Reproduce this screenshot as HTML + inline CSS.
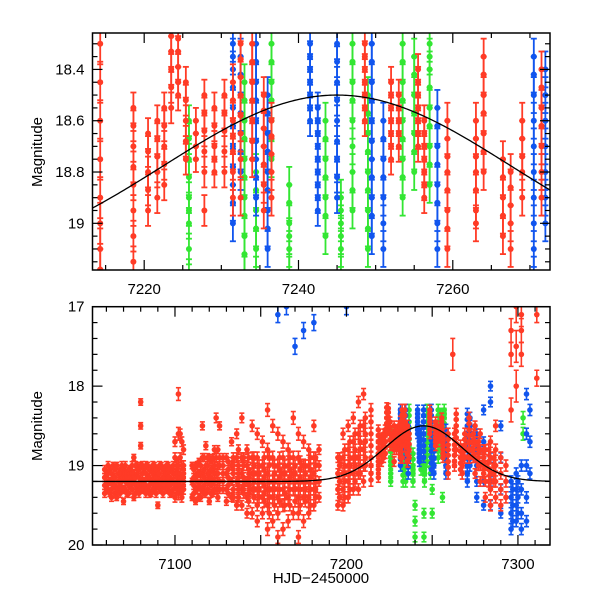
<!DOCTYPE html>
<html><head><meta charset="utf-8"><style>
html,body{margin:0;padding:0;background:#fff;}
svg{display:block;font-family:"Liberation Sans",Arial,sans-serif;}
</style></head><body>
<svg id="chart" width="600" height="600" viewBox="0 0 600 600" xmlns="http://www.w3.org/2000/svg">
<defs>
<clipPath id="clipTop"><rect x="92.5" y="33" width="457.5" height="237"/></clipPath>
<clipPath id="clipBot"><rect x="92.5" y="306.7" width="457.5" height="238.3"/></clipPath>
</defs>
<g id="top"></g>
<g id="bot"></g>
<text transform="translate(42,152) rotate(-90)" text-anchor="middle" font-size="15">Magnitude</text>
<text transform="translate(42,426) rotate(-90)" text-anchor="middle" font-size="15">Magnitude</text>
<text x="321" y="583" text-anchor="middle" font-size="15">HJD−2450000</text>
</svg>
<script>
// Data: each column = [time, error, [magnitudes]]
const redCols = [
[7059,0.05,[19.05,19.15,19.25,19.35]],[7060,0.04,[19.1,19.25,19.3]],[7061,0.05,[19.0,19.1,19.2,19.3]],[7062,0.04,[19.05,19.2,19.35]],
[7063,0.05,[19.1,19.2,19.3,19.4]],[7064,0.04,[19.0,19.15,19.25]],[7065,0.05,[19.05,19.15,19.25,19.35]],
[7066,0.04,[19.0,19.3,19.4]],[7067,0.05,[19.1,19.2,19.3]],[7068,0.05,[19.05,19.15,19.25,19.35]],[7069,0.05,[19.0,19.1,19.2,19.3]],
[7070,0.04,[19.05,19.15,19.3,19.45]],[7071,0.05,[19.0,19.1,19.2,19.3]],[7072,0.04,[19.1,19.2,19.35]],[7073,0.05,[19.05,19.15,19.25,19.35]],
[7074,0.04,[19.05,19.15,19.25]],[7075,0.05,[19.0,19.1,19.2,19.3]],[7076,0.04,[18.9,19.1,19.2,19.4]],[7077,0.05,[19.0,19.15,19.25,19.35]],
[7078,0.04,[19.0,19.1,19.25,19.3]],[7079,0.05,[19.05,19.15,19.25,19.35]],
[7080,0.04,[18.2,18.5,18.75,19.0,19.2,19.3]],[7081,0.05,[19.0,19.1,19.2,19.3]],[7082,0.04,[19.05,19.2,19.3]],[7083,0.05,[19.0,19.1,19.25,19.35]],[7084,0.04,[19.0,19.15,19.3]],
[7085,0.05,[19.05,19.15,19.25,19.35]],[7086,0.04,[19.05,19.2,19.35]],[7087,0.05,[19.0,19.1,19.2,19.3]],[7088,0.04,[19.0,19.1,19.2,19.3]],[7089,0.05,[19.05,19.15,19.25,19.35]],
[7090,0.04,[19.05,19.15,19.25,19.5]],[7091,0.05,[19.0,19.1,19.2,19.3]],
[7092,0.04,[19.0,19.2,19.3]],[7093,0.05,[19.05,19.15,19.25,19.35]],[7094,0.04,[19.05,19.15,19.25]],[7095,0.05,[19.0,19.1,19.2,19.3]],[7096,0.04,[19.0,19.1,19.2,19.3]],
[7097,0.05,[19.05,19.15,19.25,19.35]],[7098,0.04,[19.05,19.2,19.35]],[7099,0.05,[19.0,19.1,19.2,19.3]],[7100,0.06,[18.7,18.9,19.1,19.25,19.4]],[7101,0.06,[19.0,19.1,19.2,19.3]],[7102,0.08,[18.1,18.6,19.0,19.2,19.35]],
[7103,0.06,[18.6,18.9,19.1,19.2,19.3]],[7104,0.06,[18.7,19.0,19.15,19.3,19.4]],[7105,0.06,[18.8,19.0,19.1,19.2,19.3]],[7110,0.04,[19.0,19.2,19.4]],[7111,0.05,[19.05,19.15,19.25,19.35]],[7112,0.04,[19.0,19.15,19.3,19.45]],
[7113,0.05,[19.0,19.1,19.2,19.3]],[7114,0.04,[18.95,19.1,19.25,19.4]],[7115,0.05,[19.0,19.1,19.2,19.3,19.4]],[7116,0.05,[18.5,18.9,19.1,19.3]],[7117,0.05,[18.9,19.05,19.15,19.25,19.35]],[7118,0.05,[18.75,19.0,19.2,19.35]],
[7119,0.05,[18.9,19.0,19.1,19.2,19.3]],[7120,0.04,[18.9,19.1,19.2,19.45]],[7121,0.05,[18.95,19.05,19.15,19.25,19.35]],[7122,0.04,[18.9,19.05,19.2,19.35]],[7123,0.05,[18.8,19.0,19.1,19.2,19.3]],[7124,0.06,[18.4,18.9,19.1,19.3]],
[7125,0.05,[18.8,19.0,19.1,19.2,19.3,19.4]],[7126,0.05,[18.5,18.9,19.0,19.2,19.3]],[7128,0.05,[18.9,19.0,19.1,19.2,19.3]],[7130,0.05,[18.9,19.1,19.3,19.45]],[7131,0.05,[18.95,19.05,19.15,19.25,19.35]],[7133,0.05,[18.7,19.0,19.2,19.4]],
[7134,0.06,[18.9,19.0,19.1,19.3,19.4]],[7136,0.06,[18.6,18.9,19.2,19.5]],[7137,0.06,[18.8,19.0,19.1,19.2,19.3,19.4]],[7139,0.06,[18.4,18.9,19.1,19.3,19.5]],[7140,0.06,[18.9,19.0,19.15,19.25,19.35]],[7142,0.06,[18.8,19.0,19.2,19.4,19.6]],
[7143,0.06,[18.9,19.05,19.15,19.25,19.35,19.45]],[7145,0.07,[18.5,18.9,19.1,19.3,19.6]],[7146,0.07,[18.9,19.0,19.1,19.2,19.3,19.4]],[7148,0.07,[18.6,18.9,19.1,19.3,19.5,19.7]],[7149,0.07,[19.0,19.1,19.2,19.3,19.4]],[7151,0.07,[18.7,19.0,19.2,19.4,19.6]],
[7152,0.07,[18.9,19.05,19.15,19.25,19.35,19.45]],[7154,0.08,[18.3,18.8,19.1,19.3,19.5,19.8]],[7155,0.07,[18.9,19.0,19.2,19.3,19.4,19.6]],[7157,0.08,[18.5,18.9,19.2,19.4,19.7]],[7158,0.07,[19.0,19.1,19.2,19.3,19.5]],[7160,0.08,[18.6,19.0,19.2,19.4,19.6,19.9]],
[7161,0.07,[18.9,19.05,19.15,19.3,19.45]],[7163,0.08,[18.7,18.9,19.1,19.3,19.5,19.8]],[7164,0.07,[19.0,19.1,19.2,19.35,19.5]],[7166,0.08,[18.8,19.0,19.2,19.4,19.7]],[7167,0.07,[18.9,19.05,19.15,19.3,19.5]],[7169,0.08,[18.4,18.9,19.1,19.3,19.6]],
[7170,0.07,[19.0,19.1,19.2,19.3,19.45]],[7172,0.08,[18.6,18.9,19.2,19.4,19.6,19.9]],[7173,0.07,[18.95,19.05,19.15,19.3,19.5]],[7175,0.08,[18.7,19.0,19.2,19.4,19.7]],[7176,0.07,[19.0,19.1,19.2,19.3,19.45]],[7178,0.07,[18.8,19.0,19.2,19.4,19.6]],
[7179,0.07,[18.9,19.05,19.15,19.3,19.5]],[7181,0.07,[18.5,18.9,19.1,19.3,19.5]],[7182,0.07,[18.9,19.0,19.2,19.3,19.4]],[7184,0.06,[18.8,19.0,19.2,19.4]],[7195,0.06,[18.9,19.1,19.3,19.5]],[7196,0.06,[18.9,19.0,19.2,19.4]],
[7198,0.07,[18.6,18.9,19.1,19.3,19.5]],[7199,0.07,[18.8,19.0,19.1,19.2,19.4]],[7201,0.07,[18.5,18.8,19.0,19.2,19.4]],[7202,0.07,[18.7,18.9,19.0,19.1,19.3]],[7204,0.07,[18.4,18.7,18.9,19.1,19.3]],[7205,0.07,[18.6,18.8,18.9,19.0,19.2]],
[7207,0.07,[18.2,18.6,18.9,19.1,19.3]],[7208,0.07,[18.5,18.7,18.8,19.0,19.1]],[7210,0.07,[18.1,18.5,18.8,19.0,19.2]],[7211,0.07,[18.4,18.6,18.7,18.9,19.0]],
[7214.3,0.08,[18.3,18.45,18.6,18.75,18.9,19.0,19.1,19.18]],[7218.6,0.06,[18.55,18.62,18.7,18.78,18.85,18.95,19.05,19.15]],
[7220.5,0.06,[18.65,18.72,18.8,18.87,18.95]],[7221.7,0.06,[18.6,18.67,18.74,18.8,18.9]],[7222.6,0.06,[18.55,18.62,18.7,18.77,18.85]],
[7223.5,0.06,[18.27,18.33,18.4,18.47,18.55]],[7224.4,0.06,[18.28,18.33,18.39,18.45,18.5]],[7225.4,0.06,[18.45,18.52,18.6,18.68,18.75]],
[7226.7,0.05,[18.6,18.65,18.7,18.75]],[7227.8,0.06,[18.5,18.57,18.64,18.72,18.8,18.95]],[7229.1,0.06,[18.55,18.62,18.7,18.75,18.8]],
[7230.4,0.06,[18.5,18.57,18.64,18.72,18.8]],[7231.5,0.07,[18.45,18.52,18.6,18.66,18.72,18.8,18.9]],[7232.5,0.07,[18.3,18.36,18.43,18.5,18.58,18.65,18.75,18.9]],
[7234,0.07,[18.3,18.37,18.45,18.52,18.6,18.68,18.75]],[7235.5,0.07,[18.5,18.56,18.63,18.7,18.77,18.85,18.95]],[7236.5,0.07,[18.6,18.66,18.73,18.8,18.9]],
[7248.6,0.06,[18.3,18.35,18.4,18.45,18.5,18.55,18.6]],[7252,0.06,[18.45,18.5,18.55,18.6,18.65,18.7,18.75]],[7253,0.06,[18.5,18.55,18.6,18.65,18.7]],
[7255.5,0.06,[18.4,18.45,18.5,18.55,18.6,18.65,18.7]],[7256.3,0.06,[18.6,18.65,18.7,18.75,18.8,18.85,18.9]],[7259.3,0.07,[18.6,18.67,18.74,18.8,18.87,18.95,19.02,19.1]],
[7263,0.07,[18.6,18.67,18.74,18.8,18.87,18.95,19.0]],[7264,0.07,[18.35,18.42,18.5,18.57,18.65,18.72,18.8]],[7266.5,0.07,[18.75,18.82,18.9,18.97,19.05]],
[7267.5,0.07,[18.8,18.86,18.93,19.0,19.1]],[7269,0.07,[18.6,18.67,18.74,18.8,18.9]],[7271.5,0.07,[18.4,18.47,18.55,18.62,18.7,18.8,18.9]],
[7274,0.06,[18.6,18.7,18.8,18.9]],[7275,0.06,[18.5,18.7,18.9,19.1]],[7277,0.06,[18.7,18.8,18.9,19.0]],[7278,0.06,[18.6,18.8,19.0,19.2]],[7280,0.06,[18.8,18.9,19.0,19.1]],[7281,0.06,[18.8,19.0,19.2,19.4]],
[7283,0.07,[18.8,18.95,19.05,19.2]],[7284,0.07,[18.7,18.9,19.1,19.3,19.5]],[7286,0.07,[18.9,19.0,19.1,19.2]],[7287,0.07,[18.5,18.8,19.0,19.2,19.4]],[7290,0.07,[18.9,19.1,19.3,19.5]],
[7293,0.07,[19.0,19.2,19.4]],[7262,0.2,[17.6]],[7296,0.15,[17.3,17.6,18.3]],[7299,0.2,[17.0,17.5,18.0]],
[7302,0.15,[17.1,17.3,17.6]],[7311,0.1,[17.1,17.9]]
];
const blueCols = [
[7160,0.1,[17.1]],[7165,0.1,[17.0]],[7170,0.1,[17.5]],[7175,0.1,[17.3]],[7181,0.1,[17.2]],[7200,0.1,[17.0]],
[7231.5,0.07,[18.3,18.35,18.4,18.47,18.55,18.62,18.7,18.78,18.85,18.92,19.0]],[7232.5,0.07,[18.35,18.42,18.5,18.57,18.65,18.72,18.8]],
[7234.5,0.07,[18.3,18.37,18.45,18.52,18.6,18.68,18.75,18.82,18.9]],[7236,0.07,[18.5,18.57,18.65,18.72,18.8,18.87,18.95,19.02,19.1]],
[7241.5,0.06,[18.3,18.35,18.4,18.45,18.5,18.55,18.6]],[7242.5,0.06,[18.55,18.6,18.65,18.7,18.75,18.8,18.85,18.9,18.95]],
[7245,0.06,[18.3,18.37,18.45,18.52,18.6,18.68,18.75,18.82,18.9]],[7249.5,0.07,[18.3,18.37,18.45,18.52,18.6,18.68,18.75,18.82,18.9,18.97,19.05]],
[7251,0.07,[18.6,18.67,18.75,18.82,18.9,19.0,19.1]],[7258,0.07,[18.55,18.62,18.7,18.77,18.85,18.92,19.0,19.1]],
[7270.5,0.07,[18.35,18.42,18.5,18.6,18.7,18.8,18.9,19.0,19.1,19.2]],[7272,0.07,[18.4,18.5,18.6,18.7,18.8,18.9,19.0]],
[7276,0.06,[18.6,18.8,19.0,19.2,19.4]],[7280,0.06,[18.3,18.7,18.9,19.2,19.5]],
[7284,0.06,[18.0,18.2,18.9,19.2,19.5]],[7290,0.06,[18.5,18.9,19.3,19.6]],
[7296,0.07,[19.2,19.4,19.6,19.8]],[7297,0.07,[19.3,19.5,19.7]],[7299,0.07,[19.1,19.3,19.5,19.7]],[7300,0.07,[19.2,19.4,19.6]],[7302,0.07,[19.0,19.3,19.6,19.8]],
[7305,0.07,[18.1,18.6,19.0,19.4,19.7]],[7307,0.07,[18.3,18.7,19.1]]
];
const greenCols = [
[7225.8,0.06,[18.6,18.67,18.75,18.82,18.9,18.95,19.0,19.1,19.2]],[7233,0.07,[18.45,18.52,18.6,18.67,18.75,18.82,18.9,18.97,19.05,19.12,19.2]],
[7234.5,0.07,[18.8,18.87,18.95,19.02,19.1,19.2]],[7236.5,0.07,[18.3,18.37,18.45,18.52,18.6,18.67,18.75]],
[7238.8,0.07,[18.85,18.92,19.0,19.05,19.1,19.2]],[7243.5,0.07,[18.6,18.67,18.75,18.82,18.9,18.97,19.05]],
[7245.5,0.07,[18.9,18.95,19.0,19.05,19.1,19.2]],[7247,0.07,[18.3,18.37,18.45,18.52,18.6,18.7,18.8,18.87,18.95]],
[7249,0.07,[18.5,18.57,18.65,18.72,18.8,18.87,18.95,19.02,19.1]],[7253.5,0.07,[18.3,18.37,18.45,18.52,18.6,18.67,18.75,18.82,18.9]],
[7255,0.07,[18.35,18.42,18.5,18.57,18.65,18.72,18.8]],[7257,0.07,[18.3,18.35,18.4,18.47,18.55,18.62,18.7,18.77,18.85]],
[7240,0.06,[19.5,19.7,19.9]],[7245.2,0.06,[19.6,19.9]],[7250,0.06,[19.3,19.6]],[7256,0.06,[19.4]],
[7303,0.08,[18.4,18.6]]
];
const topXTicks = [7220,7240,7260];
const topYTicks = [18.4,18.6,18.8,19];
const botXTicks = [7100,7150,7200,7250,7300];
const botXLabels = [7100,7200,7300];
const botYTicks = [17,18,19,20];
const modelPeakT = 7245, modelBase = 19.2, modelAmp = 0.7, modelWidth = 22.5;

const NS = "http://www.w3.org/2000/svg";
function mk(tag, attrs, parent){const e=document.createElementNS(NS,tag);for(const k in attrs)e.setAttribute(k,attrs[k]);parent.appendChild(e);return e;}

const panels = [
 {g:'top', clip:'clipTop', x0:92.5, x1:550, y0:33, y1:270, t0:7213.3, t1:7272.6, m0:18.258, m1:19.182,
  xMaj:topXTicks, xLab:topXTicks, xMin:5, yMaj:topYTicks, yLab:['18.4','18.6','18.8','19'], yMin:0.05, dot:3, cap:3, sw:1.8, name:'top'},
 {g:'bot', clip:'clipBot', x0:92.5, x1:550, y0:306.7, y1:545, t0:7051.9, t1:7318.7, m0:17, m1:20,
  xMaj:botXTicks, xLab:botXLabels, xMin:10, yMaj:botYTicks, yLab:['17','18','19','20'], yMin:0.2, dot:2.8, cap:2.5, sw:1.6, name:'bottom'}
];

panels.forEach(P=>{
 const G=document.getElementById(P.g);
 const X=t=>P.x0+(t-P.t0)/(P.t1-P.t0)*(P.x1-P.x0);
 const Y=m=>P.y0+(m-P.m0)/(P.m1-P.m0)*(P.y1-P.y0);
 const data=mk('g',{'clip-path':'url(#'+P.clip+')'},G);
 
 
 const series=[['green',greenCols,'#33e633'],['blue',blueCols,'#1155ee'],['red',redCols,'#ff3b26']];
 series.forEach(([nm,cols,col])=>{
  const sg=mk('g',{fill:col,stroke:col,'stroke-width':P.sw},data);
  
  
  cols.forEach(c=>{
   const t=c[0], e=c[1];
   c[2].forEach(m=>{
    const x=X(t), ya=Y(m-e), yb=Y(m+e);
    mk('line',{x1:x,x2:x,y1:ya,y2:yb},sg);
    mk('line',{x1:x-P.cap,x2:x+P.cap,y1:ya,y2:ya},sg);
    mk('line',{x1:x-P.cap,x2:x+P.cap,y1:yb,y2:yb},sg);
    const pt=mk('circle',{cx:x,cy:Y(m),r:P.dot,stroke:'none'},sg);
    
    
   });
  });
 });
 let d='';
 for(let i=0;i<=300;i++){const t=P.t0+(P.t1-P.t0)*i/300;const m=modelBase-modelAmp*Math.exp(-Math.pow(t-modelPeakT,2)/(2*modelWidth*modelWidth));d+=(i?'L':'M')+X(t).toFixed(2)+','+Y(m).toFixed(2);}
 const cv=mk('path',{d:d,fill:'none',stroke:'#000','stroke-width':1.3},data);
 
 
 const fr=mk('rect',{x:P.x0,y:P.y0,width:P.x1-P.x0,height:P.y1-P.y0,fill:'none',stroke:'#000','stroke-width':1.5},G);
 
 
 const tg=mk('g',{stroke:'#000','stroke-width':1.2},G);
 
 
 for(let t=Math.ceil(P.t0/P.xMin)*P.xMin;t<=P.t1;t+=P.xMin){
  const maj=P.xMaj.some(v=>Math.abs(v-t)<1e-6), L=maj?10:5, x=X(t);
  mk('line',{x1:x,x2:x,y1:P.y1,y2:P.y1-L},tg);mk('line',{x1:x,x2:x,y1:P.y0,y2:P.y0+L},tg);
 }
 for(let k=Math.ceil(P.m0/P.yMin-1e-6);k*P.yMin<=P.m1+1e-6;k++){
  const m=k*P.yMin, maj=P.yMaj.some(v=>Math.abs(v-m)<1e-6), L=maj?10:5, y=Y(m);
  mk('line',{x1:P.x0,x2:P.x0+L,y1:y,y2:y},tg);mk('line',{x1:P.x1,x2:P.x1-L,y1:y,y2:y},tg);
 }
 P.xLab.forEach(t=>{const tx=mk('text',{x:X(t),y:P.y1+24,'text-anchor':'middle','font-size':15},G);tx.textContent=t;
  
  });
 P.yMaj.forEach((m,i)=>{const tx=mk('text',{x:P.x0-8,y:Y(m)+5,'text-anchor':'end','font-size':15},G);tx.textContent=P.yLab[i];
  
  });
});
</script>
</body></html>
